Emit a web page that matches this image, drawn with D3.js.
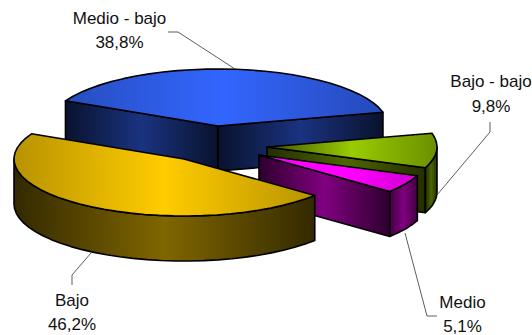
<!DOCTYPE html>
<html><head><meta charset="utf-8">
<script src="https://cdn.jsdelivr.net/npm/d3@7"></script>
<style>html,body{margin:0;padding:0;background:#fff}svg{display:block}
text{font-family:"Liberation Sans",Arial,sans-serif;font-size:17px;fill:#111}</style></head>
<body><svg id="c" width="532" height="335"></svg>
<script>
const categories = ["Medio - bajo","Bajo - bajo","Medio","Bajo"];
const values = [38.8, 9.8, 5.1, 46.2];
const valueLabels = ["38,8%","9,8%","5,1%","46,2%"];
const topColors  = ["#3366ff","#99cc00","#ff00ff","#ffcc00"];
const wallColors = ["#1a3380","#4d6600","#800080","#806600"];

const svg = d3.select("#c");
const defs = svg.append("defs");
const RX = 170, RY = 57, DEPTH = 45, START = -63.8 * Math.PI/180;
const centres = [[218,126],[267,147],[259,155],[184,159]];
const pie = d3.pie().sort(null).value(d=>d).startAngle(START).endAngle(START+2*Math.PI)(values);

const pt = (c,a,dz=0)=>[c[0]+RX*Math.sin(a), c[1]-RY*Math.cos(a)+dz];
function arcPts(c,a0,a1,dz=0){
  const n=Math.max(2,Math.ceil(Math.abs(a1-a0)/(5*Math.PI/180))),out=[];
  for(let i=0;i<=n;i++) out.push(pt(c,a0+(a1-a0)*i/n,dz));
  return out;
}
const pathLine = d3.line();
let gid=0;
function grad(x0,x1,stops){
  const id="g"+(gid++);
  const g=defs.append("linearGradient").attr("id",id).attr("gradientUnits","userSpaceOnUse")
    .attr("x1",x0).attr("x2",x1).attr("y1",0).attr("y2",0);
  stops.forEach(s=>g.append("stop").attr("offset",s[0]).attr("stop-color",s[1]));
  return `url(#${id})`;
}
const shade=(col,k)=>d3.interpolateRgb("#000",col)(k);
function poly(points,fill){
  svg.append("path").attr("d",pathLine(points)+"Z").attr("fill",fill)
    .attr("stroke","#000").attr("stroke-width",1.6).attr("stroke-linejoin","round");
}
function wall(c,a,col,k0=0.35,k1=0.35){
  const p=pt(c,a);
  poly([c,p,[p[0],p[1]+DEPTH],[c[0],c[1]+DEPTH]],
    grad(c[0],p[0],[[0,shade(col,k0)],[.5,shade(col,1)],[1,shade(col,k1)]]));
}
function rim(c,a0,a1,col,stops){
  const a=arcPts(c,a0,a1), b=arcPts(c,a1,a0,DEPTH);
  const xsA=[...a,...b].map(p=>p[0]);
  poly([...a,...b],grad(d3.min(xsA),d3.max(xsA),stops.map(s=>[s[0],shade(col,s[1])])));
}
function face(c,a0,a1,col,stops){
  const pts=[c,...arcPts(c,a0,a1)];
  const xs=pts.map(p=>p[0]);
  poly(pts,grad(d3.min(xs),d3.max(xs),stops.map(s=>[s[0],shade(col,s[1])])));
}
// Medio - bajo (back slice)
{const s=pie[0],c=centres[0];
 wall(c,s.startAngle,wallColors[0]);
 wall(c,s.endAngle,wallColors[0]);
 face(c,s.startAngle,s.endAngle,topColors[0],[[0,.75],[.5,1],[1,.72]]);}
// Bajo - bajo
{const s=pie[1],c=centres[1];
 wall(c,s.endAngle,wallColors[1],.45,.45);
 rim(c,Math.PI/2,s.endAngle,wallColors[1],[[0,.4],[.5,1],[1,.5]]);
 face(c,s.startAngle,s.endAngle,topColors[1],[[0,.4],[.5,1],[1,.7]]);}
// Medio
{const s=pie[2],c=centres[2];
 wall(c,s.endAngle,wallColors[2]);
 rim(c,s.startAngle,s.endAngle,wallColors[2],[[0,.5],[.5,1],[1,.5]]);
 face(c,s.startAngle,s.endAngle,topColors[2],[[0,1],[.6,1],[1,.8]]);}
// Bajo
{const s=pie[3],c=centres[3];
 rim(c,s.startAngle,1.5*Math.PI,wallColors[3],[[0,.4],[.5,1],[1,.4]]);
 face(c,s.startAngle,s.endAngle,topColors[3],[[0,.72],[.5,1],[1,.72]]);}

// leaders
const leaderPaths=[[[168,32],[178,32],[235,69]],[[490,122],[490,132],[437,195]],[[405,233],[427,316],[437,316]],[[72,285],[72,275],[91,253]]];
leaderPaths.forEach(p=>svg.append("path").attr("d",pathLine(p)).attr("fill","none").attr("stroke","#333").attr("stroke-width",.8));
const labelPos=[[119.5,24,48],[491,87,112],[462.5,308,332],[72,306,330]];
categories.forEach((n,i)=>{
  const l=labelPos[i];
  svg.append("text").attr("x",l[0]).attr("y",l[1]).attr("text-anchor","middle").text(n);
  svg.append("text").attr("x",l[0]).attr("y",l[2]).attr("text-anchor","middle").text(valueLabels[i]);
});
</script></body></html>
